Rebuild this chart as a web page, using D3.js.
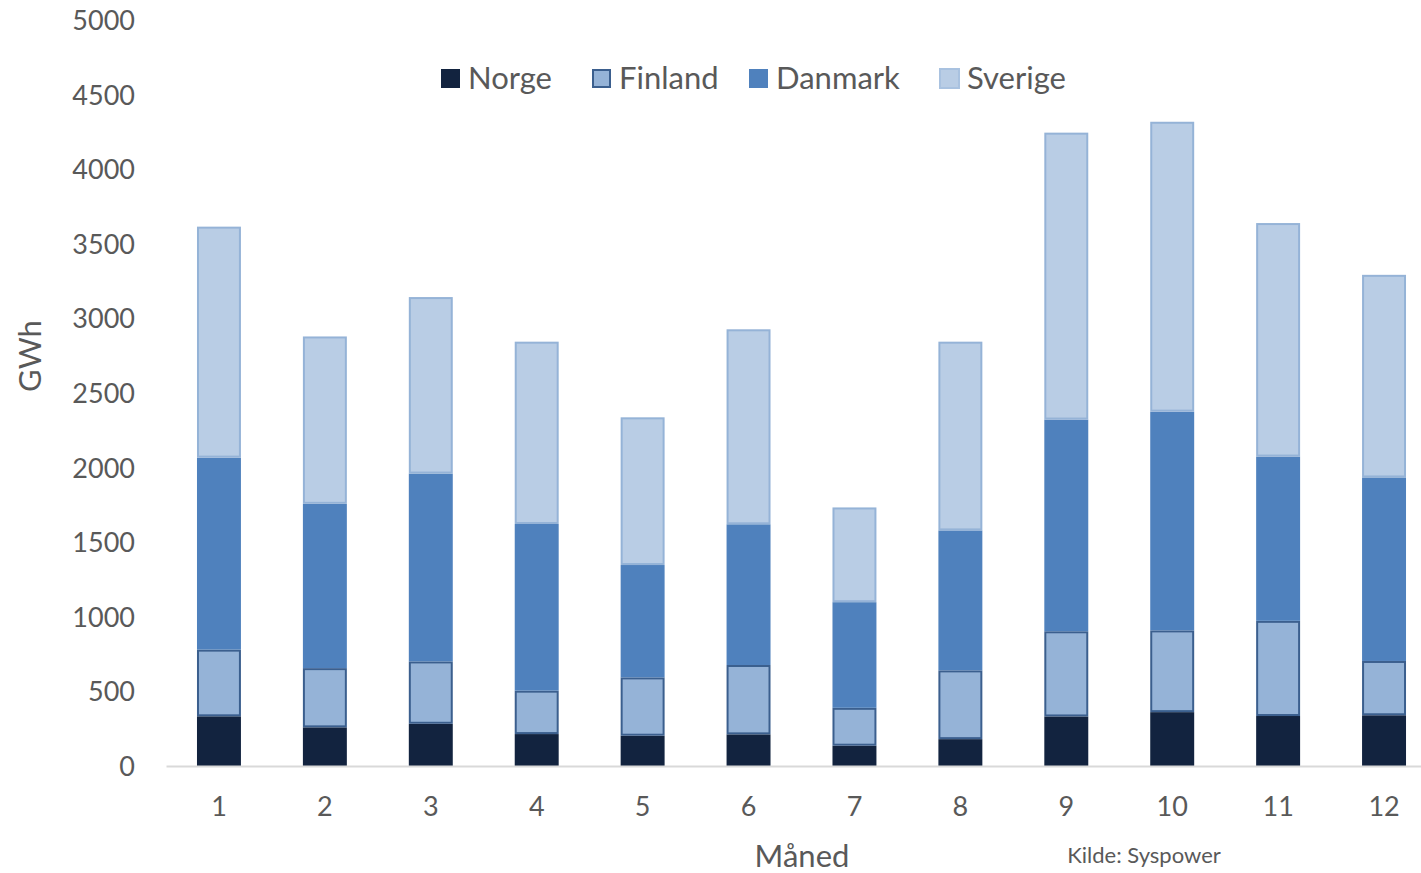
<!DOCTYPE html>
<html>
<head>
<meta charset="utf-8">
<script src="https://cdn.jsdelivr.net/npm/d3@7"></script>
<style>
  html, body { margin: 0; padding: 0; background: #ffffff; }
  svg { display: block; }
  text { font-family: Lato, "Gill Sans", "Open Sans", sans-serif; fill: #595959; }
</style>
</head>
<body>
<svg id="chart" width="1421" height="873"></svg>
<script>
// Monthly volumes in GWh, stacked per country
const months  = ["1", "2", "3", "4", "5", "6", "7", "8", "9", "10", "11", "12"];
const norge   = [333, 259, 283, 214, 203, 212, 136, 180, 332, 361, 335, 340];
const finland = [447, 397, 418, 291, 391, 465, 254, 461, 571, 548, 638, 364];
const danmark = [1287, 1101, 1259, 1117, 753, 943, 708, 938, 1419, 1466, 1101, 1230];
const sverige = [1548, 1122, 1183, 1222, 990, 1307, 635, 1265, 1923, 1943, 1565, 1358];
const yTicks  = [0, 500, 1000, 1500, 2000, 2500, 3000, 3500, 4000, 4500, 5000];

const seriesNames = ["Norge", "Finland", "Danmark", "Sverige"];
const seriesData  = [norge, finland, danmark, sverige];
const fills   = ["#12233f", "#95b3d7", "#4f81bd", "#b9cde5"];
const strokes = ["#12233f", "#3b5f8e", "#4f81bd", "#95b3d7"];
const strokeW = [0, 2, 0, 2];

const rows = months.map((m, i) => {
  const r = { month: m };
  seriesNames.forEach((s, k) => { r[s] = seriesData[k][i]; });
  return r;
});
const stacked = d3.stack().keys(seriesNames)(rows);

const svg = d3.select("#chart");
const plot = { left: 166, right: 1437, top: 20, bottom: 766 };

const x = d3.scaleBand().domain(months).range([plot.left, plot.right]).paddingInner(0.585).paddingOuter(0.2925);
const y = d3.scaleLinear().domain([0, 5000]).range([plot.bottom, plot.top]);

// Y axis labels
const yAxis = svg.append("g")
  .attr("transform", `translate(${plot.left},0)`)
  .call(d3.axisLeft(y).tickValues(yTicks).tickFormat(d3.format("d")).tickSize(0).tickPadding(31));
yAxis.select(".domain").remove();
yAxis.selectAll("text")
  .style("font-size", "27px")
  .attr("fill", "#595959")
  .attr("dy", "0.35em");

// Bars
stacked.forEach((layer, k) => {
  svg.append("g")
    .selectAll("rect")
    .data(layer)
    .join("rect")
    .attr("x", d => x(d.data.month) + strokeW[k] / 2)
    .attr("width", x.bandwidth() - strokeW[k])
    .attr("y", d => y(d[1]) + strokeW[k] / 2)
    .attr("height", d => Math.max(0, y(d[0]) - y(d[1]) - strokeW[k]))
    .attr("fill", fills[k])
    .attr("stroke", strokeW[k] ? strokes[k] : "none")
    .attr("stroke-width", strokeW[k]);
});

// X axis baseline and month labels
const xAxis = svg.append("g")
  .attr("transform", `translate(0,${plot.bottom})`)
  .call(d3.axisBottom(x).tickSize(0).tickPadding(31));
xAxis.select(".domain").attr("stroke", "#d9d9d9").attr("stroke-width", 2);
xAxis.selectAll("text")
  .style("font-size", "27px")
  .attr("fill", "#595959");

// Axis titles
svg.append("text")
  .attr("transform", "translate(41,356) rotate(-90)")
  .attr("text-anchor", "middle")
  .style("font-size", "31px")
  .text("GWh");

svg.append("text")
  .attr("x", 802).attr("y", 867)
  .attr("text-anchor", "middle")
  .style("font-size", "31px")
  .text("Måned");

svg.append("text")
  .attr("x", 1144).attr("y", 863)
  .attr("text-anchor", "middle")
  .style("font-size", "22px")
  .text("Kilde: Syspower");

// Legend
const legendX = [441, 592, 749, 940];
const legend = svg.append("g");
seriesNames.forEach((name, k) => {
  legend.append("rect")
    .attr("x", legendX[k] + (k === 1 ? 1 : 0))
    .attr("y", 69 + (k === 1 ? 1 : 0))
    .attr("width", k === 1 ? 17 : 19)
    .attr("height", k === 1 ? 17 : 19)
    .attr("fill", fills[k])
    .attr("stroke", k === 1 ? strokes[1] : (k === 3 ? "#a9c2e0" : "none"))
    .attr("stroke-width", k === 1 || k === 3 ? 2 : 0);
  legend.append("text")
    .attr("x", legendX[k] + 27)
    .attr("y", 89)
    .style("font-size", "31px")
    .text(name);
});
</script>
</body>
</html>
